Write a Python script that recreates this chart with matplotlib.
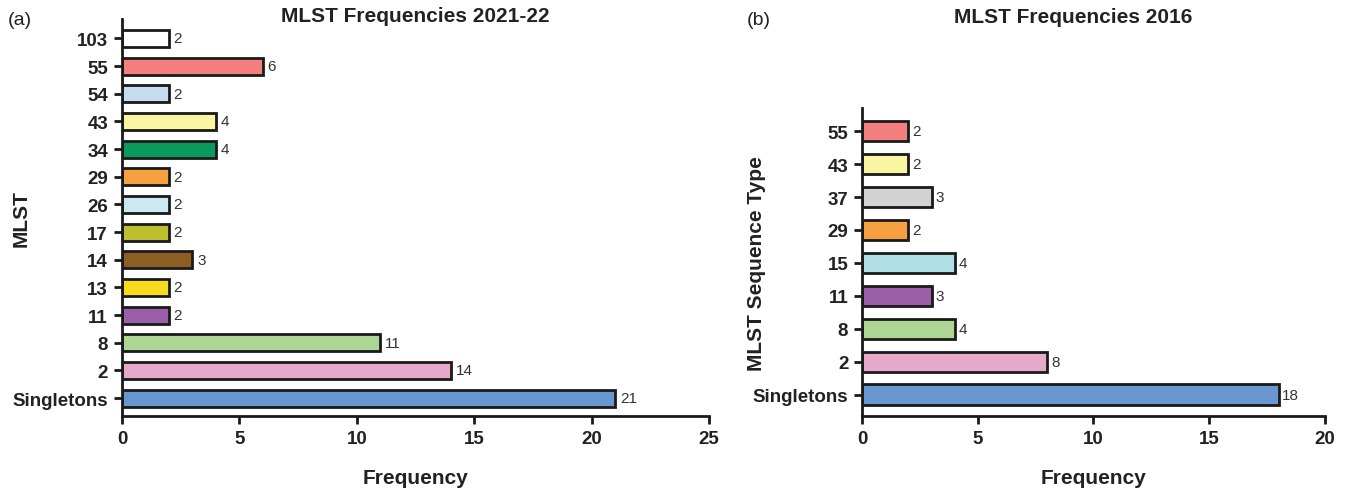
import matplotlib.pyplot as plt

plt.rcParams['font.family'] = ['Liberation Sans', 'DejaVu Sans']

# panel (a) 2021-22
cats_a = ['Singletons', '2', '8', '11', '13', '14', '17', '26', '29', '34', '43', '54', '55', '103']
vals_a = [21, 14, 11, 2, 2, 3, 2, 2, 2, 4, 4, 2, 6, 2]
cols_a = ['#6898CF', '#E6A9CC', '#ADD694', '#9A5FA8', '#F7DC1C', '#8C5E24', '#BEBF2E',
          '#CBE9F0', '#F7A042', '#0A9A5E', '#FAF5A0', '#C6DBEF', '#F47F7F', '#FFFFFF']

# panel (b) 2016
cats_b = ['Singletons', '2', '8', '11', '15', '29', '37', '43', '55']
vals_b = [18, 8, 4, 3, 4, 2, 3, 2, 2]
cols_b = ['#6898CF', '#E6A9CC', '#ADD694', '#9A5FA8', '#B0E0E6', '#F7A042', '#D3D3D3',
          '#FAF5A0', '#F47F7F']

fig = plt.figure(figsize=(13.45, 4.89), dpi=100)
ax1 = fig.add_axes([0.0907, 0.147, 0.4365, 0.812])
ax2 = fig.add_axes([0.641, 0.147, 0.344, 0.630])


def draw(ax, cats, vals, cols, xmax, step, top_pad):
    y = list(range(len(cats)))
    ax.barh(y, vals, height=0.62, color=cols, edgecolor='#1a1a1a', linewidth=2)
    for yi, v in zip(y, vals):
        ax.text(v + xmax * 0.008, yi, str(v), va='center', ha='left', fontsize=11, color='#333333')
    ax.set_yticks(y)
    ax.set_yticklabels(cats, fontweight='bold', fontsize=13.5, color='#222222')
    ax.set_xlim(0, xmax)
    ax.set_xticks(range(0, xmax + 1, step))
    ax.set_xticklabels([str(t) for t in range(0, xmax + 1, step)], fontweight='bold',
                       fontsize=13.5, color='#222222')
    ax.set_ylim(-0.65, len(cats) - 1 + top_pad)
    for s in ['top', 'right']:
        ax.spines[s].set_visible(False)
    for s in ['left', 'bottom']:
        ax.spines[s].set_linewidth(2)
        ax.spines[s].set_color('#1a1a1a')
    ax.tick_params(width=2, length=6, color='#1a1a1a', pad=4)
    ax.set_xlabel('Frequency', fontweight='bold', fontsize=15, labelpad=15, color='#222222')


draw(ax1, cats_a, vals_a, cols_a, 25, 5, 0.7)
draw(ax2, cats_b, vals_b, cols_b, 20, 5, 0.7)

ax1.set_ylabel('MLST', fontweight='bold', fontsize=15, color='#222222')
ax1.yaxis.set_label_coords(-0.155, 0.5)
ax2.set_ylabel('MLST Sequence Type', fontweight='bold', fontsize=15, color='#222222')
ax2.yaxis.set_label_coords(-0.207, 0.5)

fig.text(0.309, 0.966, 'MLST Frequencies 2021-22', ha='center', va='center', fontweight='bold',
         fontsize=15, color='#222222')
fig.text(0.798, 0.964, 'MLST Frequencies 2016', ha='center', va='center', fontweight='bold',
         fontsize=15, color='#222222')
fig.text(0.006, 0.959, '(a)', ha='left', va='center', fontsize=14, color='#222222')
fig.text(0.555, 0.959, '(b)', ha='left', va='center', fontsize=14, color='#222222')

fig.savefig('out.png', dpi=100)
